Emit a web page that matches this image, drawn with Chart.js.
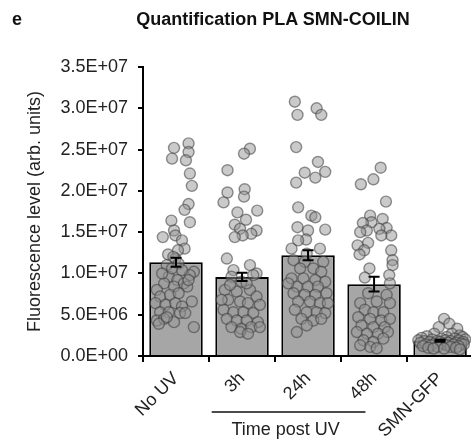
<!DOCTYPE html>
<html>
<head>
<meta charset="utf-8">
<script src="https://cdn.jsdelivr.net/npm/chart.js@4.4.1/dist/chart.umd.min.js"></script>
<style>
  html, body { margin: 0; padding: 0; background: #fff; overflow: hidden; }
  #wrap { position: relative; width: 471px; height: 441px; overflow: hidden; }
  #panel, #title {
    position: absolute; top: 9px; line-height: 22px;
    font: bold 18px "Liberation Sans", Arial, sans-serif; color: #111; white-space: nowrap;
  }
  #panel { left: 12px; }
  #title { left: 273px; transform: translateX(-50%); }
  canvas { position: absolute; left: 0; top: 0; }
</style>
</head>
<body>
<div id="wrap">
  <canvas id="grafico" width="480" height="441"></canvas>
  <div id="panel">e</div>
  <div id="title">Quantification PLA SMN-COILIN</div>
</div>
<script>
const categorias = ["No UV", "3h", "24h", "48h", "SMN-GFP"];
const medias = [1.135e7, 9.58e6, 1.22e7, 8.7e6, 1.85e6];
const erros = [5.5e5, 5.0e5, 6.0e5, 9.0e5, 1.2e5];
const grupoTempo = "Time post UV";

// pontos individuais de cada grupo (valor) e deslocamento horizontal (fracao da categoria)
const pontosNoUV = [2.575e7, 2.52e7, 2.47e7, 2.39e7, 2.37e7, 2.21e7, 2.06e7, 1.84e7, 1.77e7, 1.64e7,
  1.62e7, 1.52e7, 1.46e7, 1.44e7, 1.40e7, 1.30e7, 1.28e7, 1.23e7, 1.18e7, 1.20e7,
  1.10e7, 1.12e7, 1.02e7, 9.8e6, 9.6e6, 9.2e6, 8.8e6, 8.8e6, 8.0e6, 8.4e6,
  8.4e6, 7.2e6, 7.4e6, 7.6e6, 6.6e6, 6.4e6, 6.2e6, 6.4e6, 6.0e6, 5.3e6,
  5.3e6, 5.2e6, 5.2e6, 4.3e6, 4.5e6, 4.1e6, 3.9e6, 3.5e6, 4.7e6, 1.0e7,
  1.04e7, 1.06e7, 9.2e6];
const desvioNoUV = [0.19, -0.03, 0.19, -0.06, 0.15, 0.21, 0.24, 0.19, 0.13, -0.07,
  0.21, -0.03, -0.01, -0.20, 0.09, 0.13, 0.03, -0.12, -0.01, -0.04,
  -0.14, 0.04, 0.27, 0.21, -0.11, 0.02, -0.18, 0.12, -0.29, -0.03,
  0.17, -0.24, -0.09, 0.04, 0.24, -0.31, -0.16, -0.01, 0.09, -0.24,
  -0.11, 0.06, 0.14, -0.29, -0.18, -0.03, -0.26, 0.27, -0.14, -0.21,
  0.09, -0.06, 0.19];

const pontos3h = [2.51e7, 2.45e7, 2.25e7, 2.02e7, 1.98e7, 1.93e7, 1.86e7, 1.76e7, 1.74e7, 1.65e7,
  1.59e7, 1.54e7, 1.52e7, 1.48e7, 1.46e7, 1.44e7, 1.18e7, 1.10e7, 1.04e7, 1.00e7,
  9.6e6, 9.0e6, 9.8e6, 8.0e6, 7.8e6, 8.0e6, 7.2e6, 6.8e6, 6.6e6, 6.4e6,
  6.2e6, 5.6e6, 5.3e6, 5.3e6, 5.2e6, 4.5e6, 4.3e6, 4.3e6, 4.1e6, 3.5e6,
  3.3e6, 3.5e6, 2.9e6, 2.7e6, 3.5e6, 6.8e6, 8.6e6, 8.8e6];
const desvio3h = [0.12, 0.03, -0.22, 0.04, -0.22, 0.03, -0.28, 0.23, -0.07, 0.06,
  -0.11, -0.03, 0.22, 0.14, 0.01, -0.11, -0.23, 0.12, -0.13, 0.22,
  -0.16, -0.01, 0.17, -0.26, -0.08, 0.12, 0.22, -0.21, -0.03, 0.09,
  0.27, -0.28, -0.13, 0.02, 0.17, -0.23, -0.08, 0.07, 0.24, -0.16,
  -0.01, 0.14, -0.03, 0.09, 0.27, -0.31, -0.18, 0.07];

const pontos24h = [3.08e7, 3.00e7, 2.92e7, 2.92e7, 2.53e7, 2.35e7, 2.23e7, 2.22e7, 2.16e7, 2.10e7,
  1.80e7, 1.70e7, 1.68e7, 1.56e7, 1.53e7, 1.52e7, 1.41e7, 1.40e7, 1.30e7, 1.30e7,
  1.24e7, 1.16e7, 1.14e7, 1.14e7, 1.06e7, 1.06e7, 1.02e7, 9.4e6, 9.4e6, 9.2e6,
  9.0e6, 8.4e6, 8.4e6, 8.4e6, 7.6e6, 7.4e6, 7.4e6, 7.6e6, 6.6e6, 6.6e6,
  6.4e6, 5.6e6, 5.3e6, 5.3e6, 5.2e6, 4.5e6, 4.3e6, 4.5e6, 3.7e6, 8.8e6,
  6.4e6, 2.9e6];
const desvio24h = [-0.20, 0.13, -0.16, 0.20, -0.18, 0.15, 0.26, -0.05, 0.11, -0.18,
  -0.15, 0.05, 0.11, -0.16, 0.26, 0.00, -0.03, -0.15, -0.25, 0.18,
  -0.02, -0.22, -0.05, 0.23, -0.12, 0.08, 0.20, -0.25, -0.07, 0.11,
  0.26, -0.17, 0.00, 0.15, -0.22, -0.05, 0.11, 0.28, -0.15, 0.03,
  0.18, -0.20, -0.02, 0.13, 0.26, -0.10, 0.08, 0.20, -0.02, -0.30,
  0.30, -0.17];

const pontos48h = [2.28e7, 2.14e7, 2.08e7, 1.87e7, 1.70e7, 1.66e7, 1.62e7, 1.61e7, 1.55e7, 1.54e7,
  1.52e7, 1.50e7, 1.46e7, 1.46e7, 1.37e7, 1.34e7, 1.28e7, 1.28e7, 1.23e7, 1.16e7,
  1.10e7, 1.06e7, 9.8e6, 9.5e6, 8.8e6, 7.6e6, 7.4e6, 6.4e6, 6.6e6, 6.4e6,
  5.6e6, 5.3e6, 5.3e6, 4.7e6, 4.5e6, 4.3e6, 4.5e6, 3.7e6, 3.5e6, 3.5e6,
  2.9e6, 2.7e6, 2.7e6, 2.9e6, 1.9e6, 1.7e6, 2.1e6, 1.1e6, 9.3e5, 1.3e6];
const desvio48h = [0.10, -0.01, -0.20, 0.18, -0.06, 0.13, -0.04, -0.17, 0.19, 0.08,
  -0.11, -0.21, 0.26, 0.11, -0.09, -0.25, -0.15, 0.26, -0.22, 0.28,
  0.28, -0.07, 0.23, -0.14, 0.24, -0.09, 0.19, -0.21, 0.04, 0.24,
  -0.14, -0.01, 0.14, -0.24, -0.06, 0.11, 0.24, -0.19, -0.01, 0.16,
  -0.26, -0.11, 0.06, 0.21, -0.16, -0.01, 0.14, -0.06, 0.04, -0.21];

const pontosGFP = [4.5e6, 3.9e6, 3.5e6, 3.3e6, 2.7e6, 2.7e6, 2.5e6, 2.4e6, 2.3e6, 2.3e6,
  2.2e6, 2.1e6, 2.1e6, 2.0e6, 2.0e6, 1.9e6, 1.9e6, 1.9e6, 1.8e6, 1.8e6,
  1.8e6, 1.7e6, 1.7e6, 1.7e6, 1.6e6, 1.6e6, 1.6e6, 1.5e6, 1.5e6, 1.5e6,
  1.4e6, 1.4e6, 1.4e6, 1.3e6, 1.3e6, 1.2e6, 1.2e6, 1.1e6, 1.1e6, 1.0e6,
  1.0e6, 9.0e5, 9.0e5, 8.0e5];
const desvioGFP = [0.06, 0.14, -0.02, 0.26, 0.18, -0.09, 0.30, -0.20, 0.10, 0.34,
  -0.28, 0.02, 0.22, -0.12, 0.38, -0.33, 0.08, 0.28, -0.05, 0.16,
  -0.24, 0.35, 0.00, -0.16, 0.24, -0.30, 0.12, -0.08, 0.32, 0.04,
  -0.22, 0.20, 0.36, -0.14, 0.10, -0.26, 0.28, -0.04, 0.16, -0.18,
  0.24, 0.06, -0.10, 0.30];

const grupos = [
  [pontosNoUV, desvioNoUV],
  [pontos3h, desvio3h],
  [pontos24h, desvio24h],
  [pontos48h, desvio48h],
  [pontosGFP, desvioGFP]
];

const pontos = [];
grupos.forEach(([vals, desv], i) => {
  vals.forEach((v, j) => pontos.push({ x: i + (desv[j] || 0), y: v }));
});

function notacao(v) {
  if (v === 0) return "0.0E+00";
  const e = Math.floor(Math.log10(v) + 1e-9);
  const m = v / Math.pow(10, e);
  return m.toFixed(1) + "E+" + String(e).padStart(2, "0");
}

const fonte = "'Liberation Sans', Arial, sans-serif";
const corTexto = "#222";

const barrasErro = {
  id: "barrasErro",
  afterDatasetsDraw(chart) {
    const meta = chart.getDatasetMeta(1);
    const y = chart.scales.y;
    const ctx = chart.ctx;
    ctx.save();
    ctx.strokeStyle = "#000";
    ctx.lineWidth = 2;
    meta.data.forEach((bar, i) => {
      const y1 = y.getPixelForValue(medias[i] + erros[i]);
      const y2 = y.getPixelForValue(medias[i] - erros[i]);
      ctx.beginPath();
      ctx.moveTo(bar.x, y1); ctx.lineTo(bar.x, y2);
      ctx.moveTo(bar.x - 5.5, y1); ctx.lineTo(bar.x + 5.5, y1);
      ctx.moveTo(bar.x - 5.5, y2); ctx.lineTo(bar.x + 5.5, y2);
      ctx.stroke();
    });
    ctx.restore();
  }
};

const rotuloTempo = {
  id: "rotuloTempo",
  afterDraw(chart) {
    const x = chart.scales.x;
    const w = x.getPixelForValue(1) - x.getPixelForValue(0);
    const ctx = chart.ctx;
    const x1 = x.getPixelForValue(1) - 0.46 * w;
    const x2 = x.getPixelForValue(3) - 0.13 * w;
    ctx.save();
    ctx.strokeStyle = "#111";
    ctx.lineWidth = 1.6;
    ctx.beginPath();
    ctx.moveTo(x1, 412); ctx.lineTo(x2, 412);
    ctx.stroke();
    ctx.fillStyle = corTexto;
    ctx.font = "18px " + fonte;
    ctx.textAlign = "center";
    ctx.textBaseline = "middle";
    ctx.fillText(grupoTempo, x.getPixelForValue(2) - 0.34 * w, 430);
    ctx.restore();
  }
};

new Chart(document.getElementById("grafico"), {
  data: {
    labels: categorias,
    datasets: [
      {
        type: "scatter",
        data: pontos,
        xAxisID: "xs",
        order: 1,
        pointRadius: 5.5,
        pointHoverRadius: 5.5,
        backgroundColor: "rgba(150,150,150,0.5)",
        borderColor: "rgba(60,60,60,0.55)",
        borderWidth: 1.4
      },
      {
        type: "bar",
        data: medias,
        xAxisID: "x",
        order: 2,
        grouped: false,
        backgroundColor: "#a6a6a6",
        borderColor: "#000",
        borderWidth: 2,
        categoryPercentage: 1,
        barPercentage: 0.81
      }
    ]
  },
  options: {
    responsive: false,
    animation: false,
    layout: { padding: { top: 67, right: 4, left: 0, bottom: 0 } },
    plugins: {
      legend: { display: false },
      tooltip: { enabled: false }
    },
    scales: {
      x: {
        type: "category",
        offset: true,
        grid: { offset: true, drawOnChartArea: false, drawTicks: true, tickLength: 6, color: "#000", lineWidth: 2 },
        border: { display: true, color: "#000", width: 2 },
        ticks: {
          minRotation: 45, maxRotation: 45, padding: 6, labelOffset: 0,
          color: corTexto, font: { family: fonte, size: 18 }
        },
        afterFit(s) { s.height = 85; }
      },
      xs: {
        type: "linear",
        display: false,
        min: -0.5,
        max: 4.5
      },
      y: {
        min: 0,
        max: 3.5e7,
        ticks: {
          stepSize: 5e6, padding: 10,
          color: corTexto, font: { family: fonte, size: 18 },
          callback: v => notacao(v)
        },
        grid: { drawOnChartArea: false, drawTicks: true, tickLength: 5, color: "#000", lineWidth: 2 },
        border: { display: true, color: "#000", width: 2 },
        title: {
          display: true,
          text: "Fluorescence level (arb. units)",
          color: corTexto,
          font: { family: fonte, size: 18 },
          padding: { top: 24, bottom: 0 }
        },
        afterFit(s) { s.width = 143; }
      }
    }
  },
  plugins: [barrasErro, rotuloTempo]
});
</script>
</body>
</html>
